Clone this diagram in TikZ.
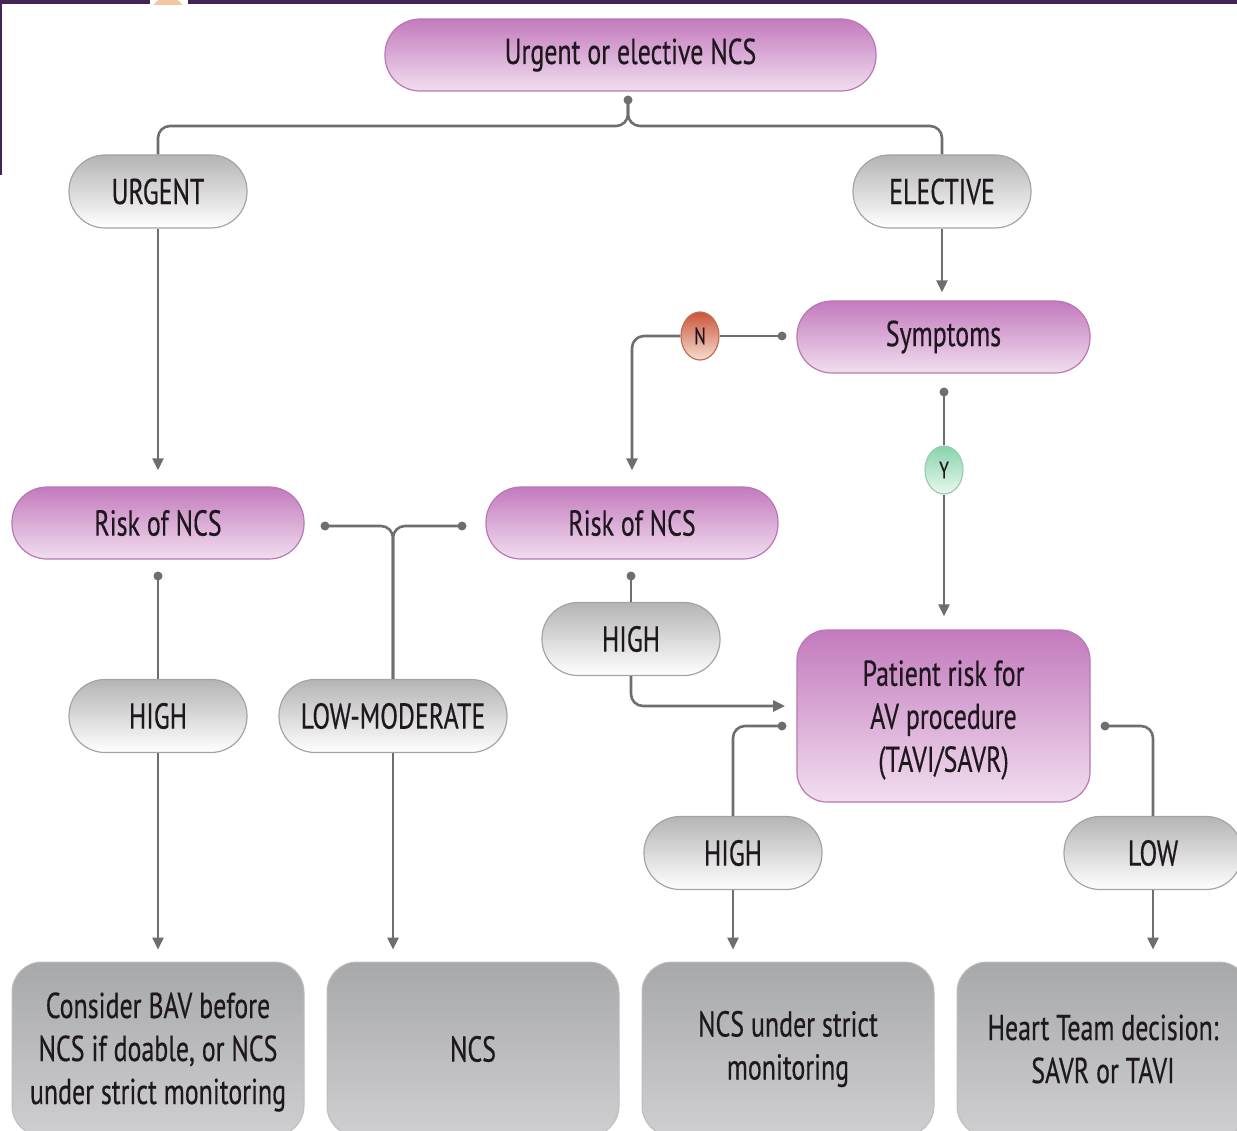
\documentclass[tikz,border=0pt]{standalone}
\usepackage{fontspec}
\setmainfont{PT Sans}[FakeStretch=0.72,FakeBold=0.4]
\usetikzlibrary{arrows.meta,shapes.geometric}

\definecolor{linkc}{HTML}{6E6E6E}
\definecolor{pinktop}{HTML}{C37ABD}
\definecolor{pinkbot}{HTML}{F1DEEF}
\definecolor{pinkedge}{HTML}{B878B4}
\definecolor{pilltop}{HTML}{B4B4B4}
\definecolor{pillbot}{HTML}{FFFFFF}
\definecolor{pilledge}{HTML}{A4A4A4}
\definecolor{boxtop}{HTML}{A7A8AA}
\definecolor{boxbot}{HTML}{CFCFD1}
\definecolor{boxedge}{HTML}{BDBDBF}
\definecolor{ink}{HTML}{1E181E}
\definecolor{notop}{HTML}{C9553A}
\definecolor{nobot}{HTML}{F6DDD2}
\definecolor{noedge}{HTML}{C0704F}
\definecolor{yestop}{HTML}{86D4AA}
\definecolor{yesbot}{HTML}{EAF7EF}
\definecolor{yesedge}{HTML}{9CCDB0}
\definecolor{barpurple}{HTML}{432452}
\definecolor{peach}{HTML}{F3C8A0}

\newcommand{\lblfont}{\fontsize{36}{43}\selectfont}
\newcommand{\markfont}{\fontsize{24}{28}\selectfont}

\tikzset{
  pinkbox/.style={draw=pinkedge, line width=1.2pt, top color=pinktop, bottom color=pinkbot,
    rounded corners=35pt, minimum height=72pt, inner sep=0pt, text=ink, font=\lblfont, align=center},
  graypill/.style={draw=pilledge, line width=1.2pt, top color=pilltop, bottom color=pillbot,
    rounded corners=36pt, minimum height=73pt, minimum width=178pt, inner sep=0pt, text=ink, font=\lblfont},
  outbox/.style={draw=boxedge, line width=1pt, top color=boxtop, bottom color=boxbot,
    rounded corners=30pt, minimum width=292pt, minimum height=174pt, inner sep=0pt,
    text=ink, font=\lblfont, align=center},
  ynmark/.style={ellipse, line width=1.2pt, minimum width=38pt, minimum height=48pt,
    inner sep=0pt, text=ink, font=\markfont},
  link/.style={draw=linkc, line width=2.6pt, rounded corners=12pt},
  arr/.style={-{Triangle[length=12pt,width=11pt]}, shorten >=12pt},
  hubdot/.style={fill=linkc},
}

\begin{document}
\begin{tikzpicture}[x=1pt,y=-1pt]
\useasboundingbox (0,0) rectangle (1237,1131);

% frame strips along the top and left edge
\begin{scope}
  \clip (150,0) rectangle (190,5);
  \fill[peach] (168,14) circle (17);
\end{scope}
\fill[barpurple] (0,0) rectangle (150,4.5);
\fill[barpurple] (188,0) rectangle (1237,4.5);
\fill[barpurple] (0,0) rectangle (2,175);

% ---------- nodes ----------
\node[pinkbox, minimum width=491pt] (start) at (630.5,55) {Urgent or elective NCS};

\node[graypill] (urgent)   at (158,191.5) {URGENT};
\node[graypill] (elective) at (942,191.5) {ELECTIVE};

\node[pinkbox, minimum width=293pt] (symptoms) at (943.5,337) {Symptoms};

\node[ynmark, draw=noedge, top color=notop, bottom color=nobot] (nmark) at (700,336) {N};
\node[ynmark, draw=yesedge, top color=yestop, bottom color=yesbot] (ymark) at (944,470) {Y};

\node[pinkbox, minimum width=292pt] (riskL) at (158,523) {Risk of NCS};
\node[pinkbox, minimum width=292pt] (riskM) at (632,523) {Risk of NCS};

\node[graypill] (highM) at (631,639) {HIGH};
\node[graypill] (highL) at (158,716) {HIGH};
\node[graypill, minimum width=228pt] (lowmod) at (393,716) {LOW-MODERATE};

\node[pinkbox, minimum width=293pt, minimum height=172pt, rounded corners=30pt]
  (patient) at (943.5,716) {};
\node[text=ink, font=\lblfont, align=center] (patienttext) at (943.5,720)
  {Patient risk for\\AV procedure\\(TAVI/SAVR)};

\node[graypill] (highR) at (733,853) {HIGH};
\node[graypill] (lowR)  at (1153,853) {LOW};

\node[outbox] (outA) at (158,1049) {};
\node[text=ink, font=\lblfont, align=center] (outAtext) at (158,1052)
  {Consider BAV before\\NCS if doable, or NCS\\under strict monitoring};
\node[outbox] (outB) at (473,1049) {NCS};
\node[outbox] (outC) at (788,1049) {NCS under strict\\monitoring};
\node[outbox] (outD) at (1103,1049) {Heart Team decision:\\SAVR or TAVI};

% ---------- connector end points ----------
\coordinate (d0)  at (628,100);
\coordinate (dN)  at (782,336);
\coordinate (dY)  at (944,392);
\coordinate (dRL) at (158,576);
\coordinate (dRM) at (631,576);
\coordinate (dBL) at (325,526);
\coordinate (dBR) at (462,526);
\coordinate (jB)  at (393,526);
\coordinate (inHigh) at (797,706);
\coordinate (dPL) at (782,726);
\coordinate (dPR) at (1105,726);

\foreach \p in {d0,dN,dY,dRL,dRM,dBL,dBR,dPL,dPR}
  \fill[hubdot] (\p) circle (4.5);

% ---------- connectors ----------
\draw[link] (d0) -- ++(0,26) -| (urgent);
\draw[link] (d0) -- ++(0,26) -| (elective);

\draw[link,arr,shorten >=16pt] (urgent) -- (riskL);
\draw[link,arr,shorten >=8pt] (elective.south) -- (elective.south |- symptoms.north);

\draw[link] (dN) -- (nmark);
\draw[link,arr,shorten >=16pt] (nmark) -| (riskM);

\draw[link] (dY) -- (ymark);
\draw[link,arr,shorten >=13pt] (ymark.south) -- (ymark.south |- patient.north);

\draw[link] (dRL) -- (highL);
\draw[link,arr] (highL) -- (outA);

\draw[link] (dBL) -- (jB) -- (lowmod);
\draw[link] (dBR) -- (jB) -- (lowmod);
\draw[link,arr] (lowmod.south) -- (lowmod.south |- outB.north);

\draw[link] (dRM) -- (highM);
\draw[link,arr] (highM) |- (inHigh);

\draw[link] (dPL) -| (highR);
\draw[link,arr] (highR.south) -- (highR.south |- outC.north);

\draw[link] (dPR) -| (lowR);
\draw[link,arr] (lowR.south) -- (lowR.south |- outD.north);
\end{tikzpicture}
\end{document}
